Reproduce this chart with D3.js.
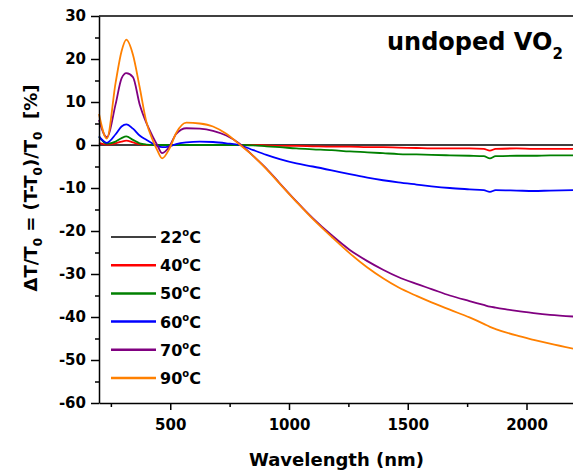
<!DOCTYPE html>
<html>
<head>
<meta charset="utf-8">
<script src="https://cdn.jsdelivr.net/npm/d3@7"></script>
<style>
    body { margin: 0; background: #fff; }
    text { font-family: "DejaVu Sans", sans-serif; font-weight: bold; fill: #000; }
</style>
</head>
<body>
<svg width="573" height="475"></svg>
<script>
// Wavelength grid (nm) shared by every series.
const wavelengths = [200, 233, 270, 295, 315, 343, 371, 399, 427, 445, 466, 497, 525, 568, 624, 680, 736, 792,
    850, 905, 961, 1031, 1100, 1180, 1256, 1330, 1396, 1460, 1537, 1600, 1677, 1760, 1820, 1846, 1870, 1958, 2030, 2099, 2200];

// dT/T0 values (%).
const t22 = wavelengths.map(() => 0);
const t40 = [0.5, 0.1, 0.4, 0.8, 1.0, 0.6, 0.2, 0, 0, 0, 0, 0, 0, 0, 0, 0, 0, 0,
    0, -0.1, -0.2, -0.2, -0.3, -0.4, -0.4, -0.5, -0.5, -0.6, -0.7, -0.8, -0.8, -0.8, -0.9, -1.3, -0.9, -0.8, -0.9, -0.9, -0.9];
const t50 = [2.0, 0.3, 0.8, 1.6, 2.0, 1.2, 0.4, 0.1, 0, 0, 0, 0, 0, 0, 0, 0, 0, 0,
    -0.1, -0.3, -0.5, -0.8, -1.0, -1.2, -1.5, -1.7, -1.9, -2.1, -2.2, -2.3, -2.4, -2.5, -2.6, -3.1, -2.6, -2.5, -2.5, -2.4, -2.4];
const t60 = [2.0, 0.5, 2.5, 4.3, 4.8, 3.8, 2.2, 1.2, 0.3, -0.2, -0.5, -0.3, 0.2, 0.6, 0.8, 0.7, 0.4, 0.0,
    -1.2, -2.3, -3.3, -4.3, -5.0, -5.9, -6.8, -7.6, -8.2, -8.7, -9.2, -9.6, -10.0, -10.3, -10.5, -10.9, -10.5, -10.6, -10.7, -10.6, -10.5];
const t70 = [5.8, 1.8, 9.5, 15.5, 16.7, 15.8, 9.5, 5.2, 1.9, 0.0, -1.9, -0.3, 2.6, 3.9, 3.8, 3.3, 2.2, 0.3,
    -2.6, -5.5, -8.9, -13.1, -17.0, -21.0, -24.4, -27.0, -29.0, -30.7, -32.3, -33.5, -35.0, -36.3, -37.2, -37.6, -37.8, -38.6, -39.1, -39.5, -39.9];
const t90 = [7.2, 1.5, 14.5, 21.8, 24.5, 21.0, 13.5, 5.5, 1.0, -1.2, -3.1, -0.8, 2.8, 5.2, 5.0, 4.3, 2.6, 0.1,
    -2.6, -5.6, -9.0, -13.2, -17.2, -21.4, -25.2, -28.5, -31.0, -33.1, -35.1, -36.6, -38.3, -40.1, -41.6, -42.3, -42.8, -44.3, -45.3, -46.2, -47.4];

const seriesNames = ["22", "40", "50", "60", "70", "90"];
const seriesValues = [t22, t40, t50, t60, t70, t90];
const seriesColors = ["#000000", "#ff0000", "#008000", "#0000ff", "#800080", "#ff8000"];

const xTicks = [500, 1000, 1500, 2000];
const yTicks = [30, 20, 10, 0, -10, -20, -30, -40, -50, -60];

// Plot area.
const plot = { left: 99, right: 574, top: 16, bottom: 403 };

const xScale = d3.scaleLinear().domain([200, 2200]).range([plot.left, plot.right]);
const yScale = d3.scaleLinear().domain([-60, 30]).range([plot.bottom, plot.top]);

const svg = d3.select("svg");

// Frame top line.
svg.append("line")
    .attr("x1", plot.left).attr("x2", plot.right)
    .attr("y1", plot.top).attr("y2", plot.top)
    .attr("stroke", "#000").attr("stroke-width", 1.5);

// Curves.
const line = d3.line()
    .x(d => xScale(d[0]))
    .y(d => yScale(d[1]))
    .curve(d3.curveMonotoneX);

seriesValues.forEach((vals, i) => {
    svg.append("path")
        .datum(wavelengths.map((w, j) => [w, vals[j]]))
        .attr("fill", "none")
        .attr("stroke", seriesColors[i])
        .attr("stroke-width", i == 0 ? 1.5 : 1.8)
        .attr("stroke-linejoin", "round")
        .attr("d", line);
});

// Minor ticks.
svg.append("g")
    .attr("transform", `translate(0, ${plot.bottom})`)
    .call(d3.axisBottom(xScale).tickValues([250, 750, 1250, 1750]).tickSize(4).tickFormat(""))
    .call(g => g.select(".domain").remove());
svg.append("g")
    .attr("transform", `translate(${plot.left}, 0)`)
    .call(d3.axisLeft(yScale).tickValues(d3.range(-55, 30, 10)).tickSize(4).tickFormat(""))
    .call(g => g.select(".domain").remove());

// Axes (plain hyphen for negatives, no thousands separator).
const xAxisGroup = svg.append("g")
    .attr("transform", `translate(0, ${plot.bottom})`)
    .call(d3.axisBottom(xScale).tickValues(xTicks).tickFormat(d => String(d))
        .tickSize(7).tickPadding(9).tickSizeOuter(0));
const yAxisGroup = svg.append("g")
    .attr("transform", `translate(${plot.left}, 0)`)
    .call(d3.axisLeft(yScale).tickValues(yTicks).tickFormat(d => String(d))
        .tickSize(8).tickPadding(5).tickSizeOuter(0));

svg.selectAll(".tick line").attr("stroke-width", 1.5);
svg.selectAll(".domain").attr("stroke-width", 1.5);
[xAxisGroup, yAxisGroup].forEach(g => g.selectAll("text")
    .style("font-family", "DejaVu Sans")
    .style("font-weight", "bold")
    .style("font-size", "15px"));

// Axis titles.
svg.append("text")
    .attr("x", (plot.left + plot.right) / 2)
    .attr("y", 466)
    .attr("text-anchor", "middle")
    .style("font-size", "18px")
    .text("Wavelength (nm)");

const yLabel = svg.append("text")
    .attr("transform", `translate(37, 188) rotate(-90)`)
    .attr("text-anchor", "middle")
    .style("font-size", "18px");
yLabel.append("tspan").text("\u0394T/T");
yLabel.append("tspan").attr("dy", 5).style("font-size", "12px").text("0");
yLabel.append("tspan").attr("dy", -5).text(" = (T-T");
yLabel.append("tspan").attr("dy", 5).style("font-size", "12px").text("0");
yLabel.append("tspan").attr("dy", -5).text(")/T");
yLabel.append("tspan").attr("dy", 5).style("font-size", "12px").text("0");
yLabel.append("tspan").attr("dy", -5).text("\u00a0 [%]");

// Title.
const title = svg.append("text")
    .attr("x", 387)
    .attr("y", 50)
    .style("font-size", "24px");
title.append("tspan").text("undoped VO");
title.append("tspan").attr("dy", 9).style("font-size", "15px").text("2");

// Legend.
const legend = svg.append("g");
seriesNames.forEach((name, i) => {
    const y = 237 + i * 28.2;
    legend.append("line")
        .attr("x1", 111).attr("x2", 156)
        .attr("y1", y).attr("y2", y)
        .attr("stroke", seriesColors[i])
        .attr("stroke-width", i == 0 ? 1.5 : 2.5);
    const t = legend.append("text")
        .attr("x", 160)
        .attr("y", y + 6)
        .style("font-size", "16px");
    t.append("tspan").text(name);
    t.append("tspan").attr("dy", -7).style("font-size", "10px").text("o");
    t.append("tspan").attr("dy", 7).text("C");
});
</script>
</body>
</html>
